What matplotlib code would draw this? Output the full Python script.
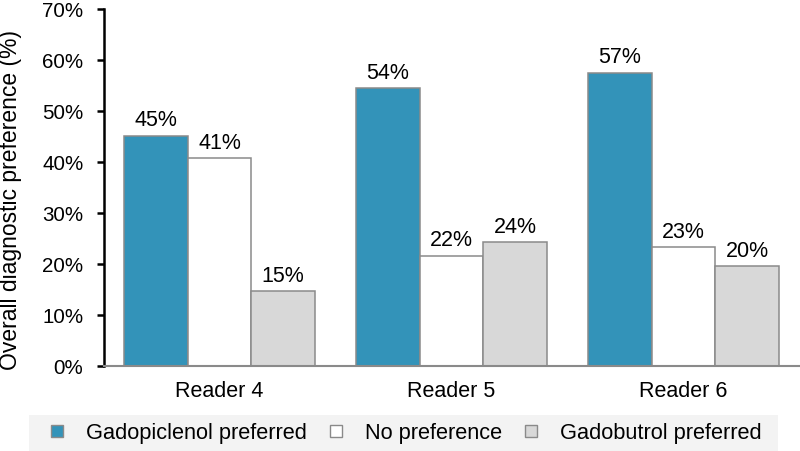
import matplotlib
matplotlib.use("Agg")
import matplotlib.pyplot as plt
import numpy as np
from matplotlib.lines import Line2D
from matplotlib.patches import Rectangle

plt.rcParams['font.family'] = ['Liberation Sans', 'DejaVu Sans']

readers = ["Reader 4", "Reader 5", "Reader 6"]
series_names = ["Gadopiclenol preferred", "No preference", "Gadobutrol preferred"]
gadopiclenol = [45.1, 54.4, 57.4]
no_pref = [40.7, 21.6, 23.2]
gadobutrol = [14.6, 24.2, 19.5]
labels_gadopiclenol = ["45%", "54%", "57%"]
labels_no_pref = ["41%", "22%", "23%"]
labels_gadobutrol = ["15%", "24%", "20%"]
yticks = [0, 10, 20, 30, 40, 50, 60, 70]

colors = ["#3393b9", "#ffffff", "#d8d8d8"]
edge = "#8a8a8a"

fig = plt.figure(figsize=(8, 4.52), dpi=100)
ax = fig.add_axes([0.1294, 0.1887, 0.87, 0.7898])

x = np.arange(len(readers))
w = 0.2746
series = [gadopiclenol, no_pref, gadobutrol]
labels = [labels_gadopiclenol, labels_no_pref, labels_gadobutrol]
for i, (vals, labs) in enumerate(zip(series, labels)):
    pos = x + (i - 1) * w
    bars = ax.bar(pos, vals, width=w, color=colors[i], edgecolor=edge, linewidth=1.1, zorder=2)
    for b, lab in zip(bars, labs):
        ax.annotate(lab, (b.get_x() + b.get_width() / 2, b.get_height()),
                    xytext=(0, 4), textcoords="offset points",
                    ha="center", va="bottom", fontsize=15.5)

ax.set_xlim(-0.5, 2.5)
ax.set_ylim(0, 70)
ax.set_yticks(yticks)
ax.set_yticklabels([f"{t}%" for t in yticks], fontsize=14.8)
ax.set_xticks(x)
ax.set_xticklabels(readers, fontsize=15.5)
ax.tick_params(axis='x', length=0, pad=10)
ax.tick_params(axis='y', length=5, width=1.8, pad=9.5, color='black')

for s in ['top', 'right']:
    ax.spines[s].set_visible(False)
ax.spines['left'].set_linewidth(1.8)
ax.spines['left'].set_color('black')
ax.spines['bottom'].set_linewidth(1.5)
ax.spines['bottom'].set_color('#8a8a8a')

ax.set_ylabel("Overall diagnostic preference (%)", fontsize=16.5, va='center')
ax.yaxis.set_label_coords(-0.134, 0.468)

# legend background
fig.patches.append(Rectangle((29 / 800, 0), 749 / 800, 36 / 452, transform=fig.transFigure,
                             facecolor="#f3f3f3", edgecolor="none", zorder=0))

handles = [Line2D([], [], linestyle='none', marker='s', markersize=8.5,
                  markerfacecolor=c, markeredgecolor=edge, markeredgewidth=1.0)
           for c in colors]
fig.legend(handles, series_names, loc='center', bbox_to_anchor=(0.5048, 0.040),
           ncol=3, frameon=False, fontsize=15.7, handlelength=1.0,
           handletextpad=0.81, columnspacing=0.85, borderpad=0, borderaxespad=0)

fig.savefig("out.png", dpi=100)
